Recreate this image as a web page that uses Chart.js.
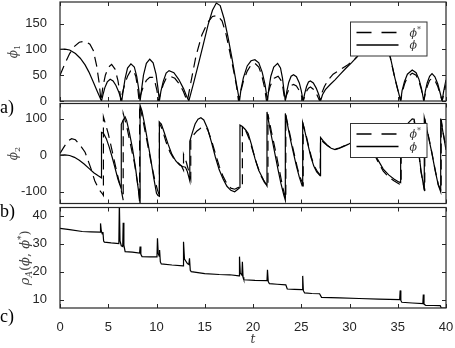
<!DOCTYPE html>
<html><head><meta charset="utf-8">
<script src="https://cdn.jsdelivr.net/npm/chart.js@4/dist/chart.umd.min.js"></script>
<style>
html,body{margin:0;padding:0;background:#fff;}
#wrap{position:relative;width:455px;height:348px;overflow:hidden;}
canvas{position:absolute;left:0;top:0;}
</style></head><body>
<div id="wrap">
<canvas id="ca" width="455" height="348"></canvas>
<canvas id="cb" width="455" height="348"></canvas>
<canvas id="cc" width="455" height="348"></canvas>
</div>
<script>
// ---------- data ----------
const tTicks = [0,5,10,15,20,25,30,35,40];
const phi1Ticks = [0,50,100,150];
const phi2Ticks = [-100,0,100];
const rhoTicks = [10,20,30,40];
const panelLabels = ['a)','b)','c)'];
const legendLabels = ['ϕ*','ϕ'];

const phi1Star = [[0,50],[0.5,72],[1.0,92],[1.5,106],[2.0,114],[2.6,116],[3.1,110],[3.45,98],[3.8,68],[4.05,36],[4.25,0],
[4.45,28],[4.7,50],[5.0,65],[5.35,71],[5.7,62],[6.0,40],[6.2,18],[6.3,0],
[6.45,14],[6.7,32],[7.0,48],[7.3,58],[7.6,60],[7.85,48],[8.05,26],[8.2,0],
[8.35,12],[8.6,26],[8.95,40],[9.3,46],[9.6,46],[9.85,36],[10.05,20],[10.2,0],
[10.4,14],[10.7,32],[11.0,44],[11.4,48],[11.9,44],[12.4,32],[12.8,18],[13.05,6],[13.2,0],
[13.6,40],[14.1,88],[14.7,128],[15.3,152],[15.8,164],[16.3,166],[16.8,155],[17.2,130],[17.6,95],[18.0,58],[18.3,28],[18.5,0],
[18.7,16],[19.0,38],[19.4,58],[19.8,70],[20.2,73],[20.6,66],[20.9,50],[21.2,26],[21.4,0],
[21.55,14],[21.8,30],[22.2,44],[22.6,48],[22.9,40],[23.1,26],[23.3,0],
[23.45,10],[23.7,22],[23.95,30],[24.2,32],[24.5,29],[24.8,20],[25.0,11],[25.2,0],
[25.35,9],[25.55,19],[25.75,25],[25.95,27],[26.25,23],[26.55,15],[26.75,7],[26.9,0],
[27.1,14],[27.4,28],[27.8,41],[28.3,52],[28.8,58],[29.3,64],[29.8,70],[30.3,77],[30.8,86],[31.6,108],[32.5,122],[33.3,116],[33.8,98],[34.2,86],[34.7,44],[35.3,0],
[35.45,16],[35.7,33],[36.0,46],[36.5,54],[36.9,50],[37.2,38],[37.45,22],[37.7,0],
[37.85,14],[38.05,28],[38.3,40],[38.55,44],[38.85,40],[39.15,28],[39.4,13],[39.6,0],
[39.75,12],[39.9,24],[40,32]];

const phi1 = [[0,100],[0.5,100.5],[1.0,99],[1.6,92],[2.1,83],[2.6,70],[3.0,56],[3.45,37],[3.9,17],[4.3,0],
[4.45,12],[4.65,26],[4.9,37],[5.2,42],[5.5,39],[5.8,30],[6.1,17],[6.4,0],
[6.55,20],[6.75,44],[7.0,64],[7.35,72],[7.7,66],[7.95,48],[8.15,24],[8.3,0],
[8.45,22],[8.65,50],[8.95,73],[9.3,81],[9.65,74],[9.95,52],[10.15,25],[10.3,0],
[10.45,18],[10.7,38],[11.0,54],[11.3,59],[11.8,55],[12.3,42],[12.8,24],[13.1,10],[13.35,0],
[13.85,35],[14.35,72],[14.85,110],[15.35,148],[15.8,176],[16.2,190],[16.6,185],[17.0,160],[17.4,125],[17.8,85],[18.2,42],[18.6,0],
[18.75,22],[19.0,45],[19.4,68],[19.8,78],[20.2,80],[20.6,74],[20.95,56],[21.25,32],[21.5,0],
[21.65,25],[21.85,48],[22.15,66],[22.55,73],[22.85,64],[23.05,45],[23.2,22],[23.35,0],
[23.5,18],[23.7,36],[23.95,48],[24.2,51],[24.5,47],[24.8,35],[25.0,20],[25.2,0],
[25.35,14],[25.55,28],[25.75,37],[25.95,39],[26.25,35],[26.55,25],[26.8,13],[27.0,0],
[27.2,12],[27.5,22],[28.0,32],[28.5,41],[29.0,51],[29.6,63],[30.2,74],[30.8,86],[31.6,110],[32.5,125],[33.3,118],[33.8,100],[34.2,88],[34.7,45],[35.3,0],
[35.45,20],[35.7,38],[36.0,52],[36.5,60],[36.9,55],[37.2,42],[37.45,25],[37.7,0],
[37.85,18],[38.05,35],[38.3,48],[38.55,53],[38.85,47],[39.15,33],[39.4,15],[39.6,0],
[39.75,18],[39.9,32],[40,41]];

const phi2Star = [[0,5],[0.4,22],[0.8,38],[1.2,45],[1.6,42],[2.0,30],[2.6,8],[3.2,-36],[3.6,-70],[4.0,-92],[4.4,-106],[4.5,-110],
[4.5,104],[5.0,59],[5.5,0],[6.0,-59],[6.3,-90],[6.55,-123],
[6.55,114],[6.9,80],[7.3,30],[7.7,-20],[8.0,-70],[8.2,-110],[8.25,-130],
[8.25,138],[8.6,95],[9.0,40],[9.4,-15],[9.8,-65],[10.1,-95],[10.3,-110],
[10.3,88],[10.6,70],[11.0,35],[11.4,8],[11.8,-10],[12.2,-20],[12.6,-30],[12.8,-41],
[12.8,2],[13.1,-20],[13.4,-50],[13.55,-65],
[13.55,45],[13.8,54],[14.2,66],[14.6,74],[15.0,77],[15.3,70],[15.7,40],[16.1,5],[16.5,-30],[16.9,-58],[17.3,-78],[17.7,-90],[18.1,-93],[18.5,-88],[18.9,-86],
[18.9,80],[19.2,70],[19.6,45],[20.0,10],[20.4,-25],[20.8,-55],[21.2,-75],[21.55,-85],
[21.55,112],[21.9,65],[22.2,28],[22.5,-10],[22.8,-50],[23.1,-90],[23.4,-120],
[23.4,110],[23.7,72],[24.0,35],[24.3,0],[24.6,-35],[24.9,-62],[25.2,-80],
[25.2,84],[25.5,55],[25.8,20],[26.1,-10],[26.4,-32],[26.7,-46],[26.95,-54],
[27.0,44],[27.3,35],[27.7,26],[28.1,19],[28.5,16],[28.9,19],[29.4,25],[29.9,31],[30.4,38],[31.0,45],[31.6,43],[32.2,22],[32.9,-15],[33.5,-44],[34.06,-60],[34.6,-70],[35.1,-78],[35.35,-80],
[35.35,45],[35.7,65],[36.1,84],[36.5,95],[36.7,93],[37.0,45],[37.4,-45],[37.8,-98],
[37.8,100],[38.1,62],[38.5,12],[38.9,-43],[39.2,-80],[39.5,-98],
[39.5,98],[39.7,62],[40,20]];

const phi2 = [[0,0],[0.5,1],[1.0,-1],[1.5,-6],[2.0,-14],[2.5,-24],[3.0,-36],[3.5,-48],[4.0,-57],[4.3,-62],
[4.3,62],[4.5,60],[4.8,45],[5.1,22],[5.4,-5],[5.7,-35],[6.0,-65],[6.35,-92],
[6.35,84],[6.55,96],[6.75,104],[6.9,95],[7.2,60],[7.5,20],[7.8,-30],[8.1,-90],[8.3,-132],
[8.3,136],[8.5,120],[8.8,80],[9.1,35],[9.4,-10],[9.7,-60],[10.0,-104],[10.15,-110],[10.3,-112],
[10.3,90],[10.5,85],[10.8,62],[11.2,30],[11.6,2],[12.0,-16],[12.4,-27],[12.7,-31],[13.0,-33],[13.2,-45],[13.45,-70],
[13.45,38],[13.7,60],[14.0,85],[14.3,98],[14.6,102],[14.9,96],[15.3,72],[15.7,35],[16.1,-5],[16.5,-40],[16.9,-65],[17.3,-85],[17.7,-96],[18.1,-100],[18.4,-94],[18.65,-88],
[18.65,82],[18.9,78],[19.2,70],[19.5,59],[19.85,28],[20.2,-9],[20.6,-42],[21.1,-68],[21.45,-84],
[21.45,118],[21.7,80],[22.0,40],[22.3,0],[22.6,-40],[22.9,-78],[23.2,-110],[23.35,-123],
[23.35,114],[23.6,80],[23.9,40],[24.2,5],[24.5,-30],[24.8,-60],[25.1,-84],
[25.15,88],[25.4,62],[25.7,28],[26.0,-5],[26.3,-30],[26.6,-46],[26.95,-56],
[27.0,48],[27.3,38],[27.7,27],[28.1,19],[28.5,15],[28.9,18],[29.4,24],[29.9,30],[30.4,38],[31.0,46],[31.6,45],[32.2,25],[32.9,-11],[33.5,-38],[34.06,-54],[34.6,-65],[35.1,-73],[35.3,-75],
[35.3,50],[35.7,70],[36.1,88],[36.5,99],[36.7,98],[37.0,50],[37.4,-40],[37.75,-96],
[37.75,102],[38.1,60],[38.5,10],[38.9,-45],[39.2,-82],[39.45,-100],
[39.45,100],[39.7,60],[40,14]];

const rho = [[0,35.5],[1.0,35.1],[2.3,34.4],[3.2,34.3],[4.15,34.2],[4.2,37.3],[4.28,34.6],[4.38,33.5],[4.45,34.2],[4.52,31.0],[4.6,30.6],
[5.3,30.3],[6.1,30.1],[6.15,45],[6.22,31],[6.35,29.3],[6.5,29.0],[6.55,37.5],[6.62,29.5],[6.75,27.2],
[7.5,27.0],[8.25,26.7],[8.3,29.0],[8.38,26.2],[8.5,25.4],[9.3,25.3],[10.05,25.3],[10.1,32.0],[10.18,26.5],[10.28,25.6],[10.32,27.8],[10.4,23.5],[10.5,22.8],
[11.6,22.4],[12.75,22.1],[12.8,30.7],[12.9,24.5],[13.2,22.9],[13.35,22.6],[13.42,24.8],[13.5,20.5],[13.6,20.0],
[15.0,19.3],[16.5,19.0],[17.6,18.9],[18.55,18.5],[18.6,25.4],[18.68,19.5],[18.85,18.8],[18.9,23.6],[18.97,18.0],[19.05,17.1],
[20.2,16.9],[21.45,16.8],[21.5,20.7],[21.58,16.5],[21.7,15.7],[22.5,15.5],[23.4,15.3],[23.55,13.8],[24.3,13.7],
[25.1,13.6],[25.15,18.5],[25.22,13.2],[25.35,12.4],[26.1,12.2],[26.9,12.1],[27.1,10.8],[29,10.6],[31,10.4],[33,10.2],
[35.2,10.0],[35.25,13.3],[35.32,9.7],[35.42,9.05],[36.5,8.8],[37.6,8.6],[37.65,11.8],[37.72,8.4],[37.9,7.9],[38.7,7.9],[39.4,7.85],[39.5,7.05],[40,7.0]];

// ---------- helpers ----------
const pts = arr => arr.map(p => ({x: p[0], y: p[1]}));
const TICKFONT = {family: '"Liberation Sans", Arial, sans-serif', size: 13};
const TXT = '#262626';
const SERIF = '"DejaVu Serif", serif';

function drawRich(ctx, parts, x0, y0, rotate, align) {
  ctx.save();
  ctx.translate(x0, y0);
  if (rotate) ctx.rotate(-Math.PI / 2);
  ctx.textBaseline = 'alphabetic';
  ctx.textAlign = 'left';
  let w = 0;
  parts.forEach(p => { ctx.font = p.f; p.w = ctx.measureText(p.t).width; w += p.w; });
  let x = align === 'left' ? 0 : -w / 2;
  parts.forEach(p => { ctx.font = p.f; ctx.fillText(p.t, x, p.dy || 0); x += p.w; });
  ctx.restore();
}

function phiParts(label, size) {
  const parts = [{t: label.replace('*', ''), f: `italic ${size}px ${SERIF}`}];
  if (label.endsWith('*')) parts.push({t: '*', f: `${Math.round(size*0.7)}px ${SERIF}`, dy: -5});
  return parts;
}

const decor = {
  id: 'decor',
  afterDatasetsDraw(chart, args, o) {
    const {ctx, chartArea: a, scales} = chart;
    const xs = scales.x, ys = scales.y;
    ctx.save();
    // inward ticks
    ctx.strokeStyle = '#262626';
    ctx.lineWidth = 1;
    ctx.beginPath();
    const L = 4;
    tTicks.forEach(v => {
      const p = Math.round(xs.getPixelForValue(v)) + 0.5;
      ctx.moveTo(p, a.bottom); ctx.lineTo(p, a.bottom - L);
      ctx.moveTo(p, a.top); ctx.lineTo(p, a.top + L);
    });
    o.yTicks.forEach(v => {
      const p = Math.round(ys.getPixelForValue(v)) + 0.5;
      ctx.moveTo(a.left, p); ctx.lineTo(a.left + L, p);
      ctx.moveTo(a.right, p); ctx.lineTo(a.right - L, p);
    });
    ctx.stroke();
    // legend
    if (o.legend) {
      const lx = a.right - 95.5, ly = a.top + 20, lw = 76.5, lh = 34;
      ctx.fillStyle = '#fff';
      ctx.fillRect(lx, ly, lw, lh);
      ctx.strokeStyle = '#333';
      ctx.lineWidth = 1;
      ctx.strokeRect(lx, ly, lw, lh);
      ctx.strokeStyle = '#000';
      ctx.lineWidth = 1.3;
      ctx.setLineDash([15, 10]);
      ctx.beginPath(); ctx.moveTo(lx + 6, ly + 10.5); ctx.lineTo(lx + 48, ly + 10.5); ctx.stroke();
      ctx.setLineDash([]);
      ctx.beginPath(); ctx.moveTo(lx + 6, ly + 23); ctx.lineTo(lx + 48, ly + 23); ctx.stroke();
      ctx.fillStyle = '#333';
      drawRich(ctx, phiParts(legendLabels[0], 11), lx + 59, ly + 14.5, false, 'left');
      drawRich(ctx, phiParts(legendLabels[1], 11), lx + 59, ly + 27, false, 'left');
    }
    // frame
    ctx.strokeStyle = '#262626';
    ctx.lineWidth = 1.2;
    ctx.strokeRect(a.left, a.top, a.right - a.left, a.bottom - a.top);
    // y title
    ctx.fillStyle = '#444';
    drawRich(ctx, o.yTitle, o.yTitleX, (a.top + a.bottom) / 2, true);
    // panel label
    ctx.fillStyle = '#000';
    ctx.font = `18px "Liberation Serif", serif`;
    ctx.textBaseline = 'alphabetic';
    ctx.textAlign = 'left';
    ctx.fillText(o.panel, 0, a.bottom + o.panelDy);
    ctx.restore();
  }
};

function yScale(min, max, ticks) {
  return {
    min, max,
    afterFit: s => { s.width = 60; s.paddingTop = 0; s.paddingBottom = 0; },
    afterBuildTicks: s => { s.ticks = ticks.map(v => ({value: v})); },
    grid: {display: false}, border: {display: false},
    ticks: {padding: 5, font: TICKFONT, color: TXT, autoSkip: false}
  };
}

function lineDs(arr, dashed) {
  return {data: pts(arr), borderColor: '#000', borderWidth: 1.2, borderDash: dashed ? [10, 6] : [],
          pointRadius: 0, tension: 0, fill: false};
}

function makeChart(id, datasets, pad, y, xCfg, decorOpts) {
  return new Chart(document.getElementById(id), {
    type: 'line',
    data: {datasets},
    options: {
      responsive: false, animation: false, events: [],
      layout: {padding: pad},
      plugins: {legend: {display: false}, tooltip: {enabled: false}, decor: decorOpts},
      scales: {x: xCfg, y}
    },
    plugins: [decor]
  });
}

const xHidden = {type: 'linear', min: 0, max: 40, display: false};

makeChart('ca', [lineDs(phi1Star, true), lineDs(phi1, false)],
  {top: 2, bottom: 247, left: 0, right: 9},
  yScale(0, 192, phi1Ticks), xHidden,
  {yTicks: phi1Ticks, legend: true, panel: panelLabels[0], panelDy: 12,
   yTitleX: 17, yTitle: [{t: 'ϕ', f: `italic 12px ${SERIF}`}, {t: '1', f: `8px ${SERIF}`, dy: 3}]});

makeChart('cb', [lineDs(phi2Star, true), lineDs(phi2, false)],
  {top: 103.5, bottom: 144.5, left: 0, right: 9},
  yScale(-132, 141, phi2Ticks), xHidden,
  {yTicks: phi2Ticks, legend: true, panel: panelLabels[1], panelDy: 13.5,
   yTitleX: 17, yTitle: [{t: 'ϕ', f: `italic 12px ${SERIF}`}, {t: '2', f: `8px ${SERIF}`, dy: 3}]});

makeChart('cc', [lineDs(rho, false)],
  {top: 207.5, bottom: 0, left: 0, right: 9},
  yScale(7, 43, rhoTicks),
  {type: 'linear', min: 0, max: 40,
   afterFit: s => { s.height = 40; s.paddingLeft = 0; s.paddingRight = 0; },
   afterBuildTicks: s => { s.ticks = tTicks.map(v => ({value: v})); },
   grid: {display: false}, border: {display: false},
   ticks: {padding: 4, font: TICKFONT, color: TXT, autoSkip: false, maxRotation: 0},
   title: {display: true, text: 't', font: {family: '"DejaVu Serif", serif', style: 'italic', size: 12}, color: '#333', padding: {top: 0, bottom: 1}}},
  {yTicks: rhoTicks, legend: false, panel: panelLabels[2], panelDy: 14,
   yTitleX: 29, yTitle: [
     {t: 'ρ', f: `italic 13px ${SERIF}`},
     {t: 'A', f: `italic 9px ${SERIF}`, dy: 3},
     {t: '(', f: `13px ${SERIF}`},
     {t: 'ϕ', f: `italic 13px ${SERIF}`},
     {t: ', ', f: `13px ${SERIF}`},
     {t: 'ϕ', f: `italic 13px ${SERIF}`},
     {t: '*', f: `9px ${SERIF}`, dy: -5},
     {t: ')', f: `13px ${SERIF}`}
   ]});
</script>
</body></html>
